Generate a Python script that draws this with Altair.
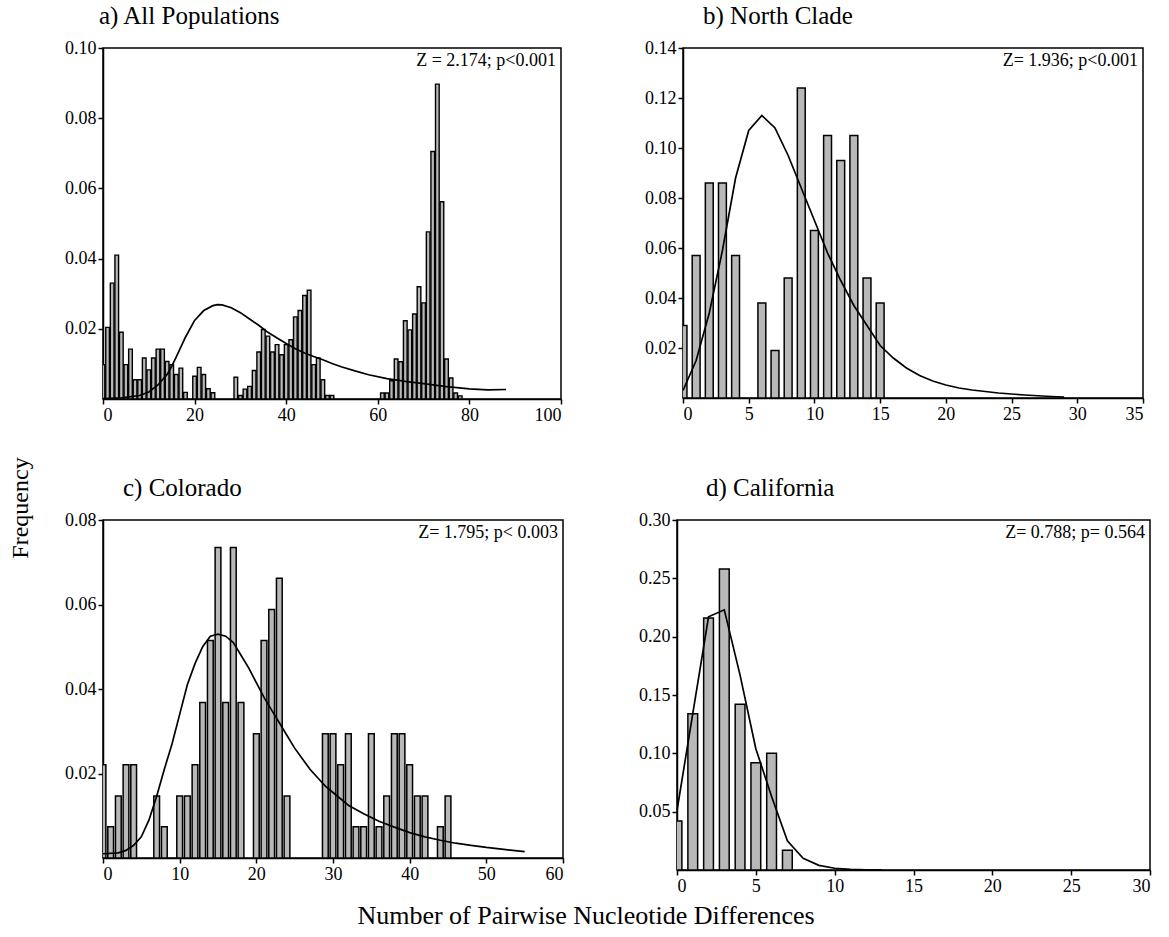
import altair as alt
import pandas as pd

FONT = "Liberation Serif"

# ---------------- a) All Populations ----------------
a_bins = list(range(0, 79))
a_freq = [0.0098, 0.0204, 0.0330, 0.0410, 0.0190, 0.0098, 0.0142, 0.0055, 0.0055, 0.0117,
          0.0083, 0.0117, 0.0142, 0.0142, 0.0107, 0.0098, 0.0070, 0.0088, 0.0019, 0.0,
          0.0065, 0.0090, 0.0070, 0.0029, 0.0018, 0.0, 0.0, 0.0, 0.0, 0.0062,
          0.0010, 0.0028, 0.0036, 0.0081, 0.0134, 0.0198, 0.0179, 0.0134, 0.0155, 0.0126,
          0.0155, 0.0169, 0.0234, 0.0252, 0.0295, 0.0310, 0.0098, 0.0117, 0.0055, 0.0010,
          0.0010, 0.0, 0.0, 0.0, 0.0, 0.0, 0.0, 0.0, 0.0, 0.0,
          0.0, 0.0017, 0.0017, 0.0052, 0.0114, 0.0106, 0.0223, 0.0197, 0.0242, 0.0320,
          0.0274, 0.0476, 0.0705, 0.0897, 0.0562, 0.0114, 0.0060, 0.0017, 0.0009]
a_curve_x = [0, 4, 8, 10, 12, 14, 15, 16, 18, 20, 22, 24, 25, 26, 28, 30, 32, 34, 36, 38,
             40, 42, 44, 46, 48, 50, 52, 55, 58, 62, 66, 70, 75, 80, 84, 88]
a_curve_y = [0.0001, 0.0003, 0.0010, 0.0020, 0.0040, 0.0070, 0.0093, 0.0120, 0.0176, 0.0224,
             0.0252, 0.0266, 0.0269, 0.0268, 0.0260, 0.0246, 0.0228, 0.0210, 0.0190, 0.0174,
             0.0158, 0.0143, 0.0131, 0.0121, 0.0112, 0.0101, 0.0092, 0.0080, 0.0069, 0.0058,
             0.0050, 0.0044, 0.0035, 0.0029, 0.0026, 0.0027]

# ---------------- b) North Clade ----------------
b_bins = list(range(0, 16))
b_freq = [0.029, 0.057, 0.086, 0.086, 0.057, 0.0, 0.038, 0.019, 0.048, 0.124,
          0.067, 0.105, 0.095, 0.105, 0.048, 0.038]
b_curve_x = list(range(0, 30))
b_curve_y = [0.003, 0.015, 0.034, 0.059, 0.088, 0.107, 0.113, 0.108, 0.097, 0.084,
             0.071, 0.058, 0.047, 0.037, 0.029, 0.021, 0.016, 0.012, 0.009, 0.0068,
             0.0052, 0.0040, 0.0032, 0.0026, 0.0020, 0.0016, 0.0012, 0.0009, 0.0006, 0.0004]

# ---------------- c) Colorado ----------------
c_bins = list(range(0, 46))
c_freq = [0.0221, 0.0074, 0.0147, 0.0221, 0.0221, 0.0, 0.0, 0.0147, 0.0074, 0.0,
          0.0147, 0.0147, 0.0221, 0.0368, 0.0515, 0.0735, 0.0368, 0.0735, 0.0368, 0.0,
          0.0294, 0.0515, 0.0588, 0.0662, 0.0147, 0.0, 0.0, 0.0, 0.0, 0.0294,
          0.0294, 0.0221, 0.0294, 0.0074, 0.0074, 0.0294, 0.0074, 0.0147, 0.0294, 0.0294,
          0.0221, 0.0147, 0.0147, 0.0, 0.0074, 0.0147]
c_curve_x = [0, 2, 3, 4, 5, 6, 7, 8, 9, 10, 11, 12, 13, 14, 15, 16, 17, 18, 19, 20,
             21, 22, 23, 24, 25, 26, 27, 28, 29, 30, 32, 34, 36, 38, 40, 42, 44, 46,
             48, 50, 52, 55]
c_curve_y = [0.0010, 0.0012, 0.0018, 0.0030, 0.0050, 0.0090, 0.0146, 0.0210, 0.0270, 0.0340,
             0.0410, 0.0460, 0.0500, 0.0525, 0.0530, 0.0525, 0.0510, 0.0480, 0.0450, 0.0415,
             0.0380, 0.0350, 0.0320, 0.0290, 0.0260, 0.0235, 0.0210, 0.0190, 0.0170, 0.0155,
             0.0125, 0.0105, 0.0087, 0.0073, 0.0060, 0.0050, 0.0042, 0.0035, 0.0030, 0.0025,
             0.0021, 0.0015]

# ---------------- d) California ----------------
d_bins = list(range(0, 8))
d_freq = [0.042, 0.134, 0.216, 0.258, 0.142, 0.092, 0.100, 0.017]
d_curve_x = list(range(0, 14))
d_curve_y = [0.051, 0.134, 0.217, 0.223, 0.167, 0.104, 0.063, 0.025, 0.010, 0.004,
             0.0015, 0.0006, 0.0002, 0.0001]

titles = ["a) All Populations", "b) North Clade", "c) Colorado", "d) California"]
stats = ["Z = 2.174; p<0.001", "Z= 1.936; p<0.001", "Z= 1.795; p< 0.003", "Z= 0.788;  p= 0.564"]


def panel(bins, freq, barw, sw, cx, cy, xmax, xvals, ymax, yvals, title, ztext, w, h, tdx):
    df = pd.DataFrame({"k": bins, "f": freq})
    cdf = pd.DataFrame({"x": cx, "y": cy})
    xs = alt.Scale(domain=[0, xmax], nice=False, zero=False)
    ys = alt.Scale(domain=[0, ymax], nice=False)
    xax = alt.Axis(values=xvals, format="d", title=None, grid=False)
    yax = alt.Axis(values=yvals, format=".2f", title=None, grid=False)
    bars = (
        alt.Chart(df)
        .transform_filter("datum.f > 0")
        .transform_calculate(x0=f"datum.k - {barw / 2}", x1=f"datum.k + {barw / 2}")
        .mark_bar(fill="#b8b8b8", stroke="black", strokeWidth=sw, clip=True)
        .encode(
            x=alt.X("x0:Q", scale=xs, axis=xax),
            x2="x1:Q",
            y=alt.Y("f:Q", scale=ys, axis=yax),
            y2=alt.datum(0),
        )
    )
    line = (
        alt.Chart(cdf)
        .mark_line(color="black", strokeWidth=1.7, clip=True)
        .encode(x=alt.X("x:Q", scale=xs, axis=xax), y=alt.Y("y:Q", scale=ys, axis=yax))
    )
    txt = (
        alt.Chart(pd.DataFrame({"t": [ztext]}))
        .mark_text(align="right", baseline="top", font=FONT, fontSize=18, color="black")
        .encode(x=alt.value(w - 5), y=alt.value(4), text="t:N")
    )
    return alt.layer(bars, line, txt).properties(
        width=w,
        height=h,
        title=alt.TitleParams(title, anchor="start", frame="group", dx=tdx, font=FONT,
                              fontSize=25, fontWeight="normal", color="black", offset=10),
    )


pa = panel(a_bins, a_freq, 0.8, 1.4, a_curve_x, a_curve_y, 100, [0, 20, 40, 60, 80, 100],
           0.10, [0.02, 0.04, 0.06, 0.08, 0.10], titles[0], stats[0], 458, 351, -4)
pb = panel(b_bins, b_freq, 0.6, 1.5, b_curve_x, b_curve_y, 35, [0, 5, 10, 15, 20, 25, 30, 35],
           0.14, [0.02, 0.04, 0.06, 0.08, 0.10, 0.12, 0.14], titles[1], stats[1], 460, 350, 20)
pc = panel(c_bins, c_freq, 0.75, 1.5, c_curve_x, c_curve_y, 60, [0, 10, 20, 30, 40, 50, 60],
           0.08, [0.02, 0.04, 0.06, 0.08], titles[2], stats[2], 460, 338, 20)
pd_ = panel(d_bins, d_freq, 0.62, 1.5, d_curve_x, d_curve_y, 30, [0, 5, 10, 15, 20, 25, 30],
            0.30, [0.05, 0.10, 0.15, 0.20, 0.25, 0.30], titles[3], stats[3], 473, 350, 29)

no_frame = alt.ViewBackground(stroke="transparent")

freq_lab = (
    alt.Chart(pd.DataFrame({"t": ["Frequency"]}))
    .mark_text(angle=270, font=FONT, fontSize=24, color="black")
    .encode(x=alt.value(15), y=alt.value(460), text="t:N")
    .properties(width=30, height=880, view=no_frame)
)

x_lab = (
    alt.Chart(pd.DataFrame({"t": ["Number of Pairwise Nucleotide Differences"]}))
    .mark_text(font=FONT, fontSize=26, color="black")
    .encode(x=alt.value(483), y=alt.value(17), text="t:N")
    .properties(width=1000, height=32, view=no_frame)
)

row1 = alt.hconcat(pa, pb, spacing=80)
row2 = alt.hconcat(pc, pd_, spacing=72)
grid = alt.vconcat(alt.vconcat(row1, row2, spacing=50), x_lab, spacing=2)

chart = (
    alt.hconcat(freq_lab, grid, spacing=26)
    .properties(padding={"left": 5, "top": 3, "right": 4, "bottom": 2}, background="white")
    .configure_view(stroke="black", strokeWidth=1.5)
    .configure_axis(labelFont=FONT, labelFontSize=18, labelColor="black", domainColor="black",
                    tickColor="black", domainWidth=1.5, tickWidth=1.5, tickSize=5, grid=False,
                    labelPadding=2)
)

chart.save("out.html", embed_options={"renderer": "svg", "actions": False})
